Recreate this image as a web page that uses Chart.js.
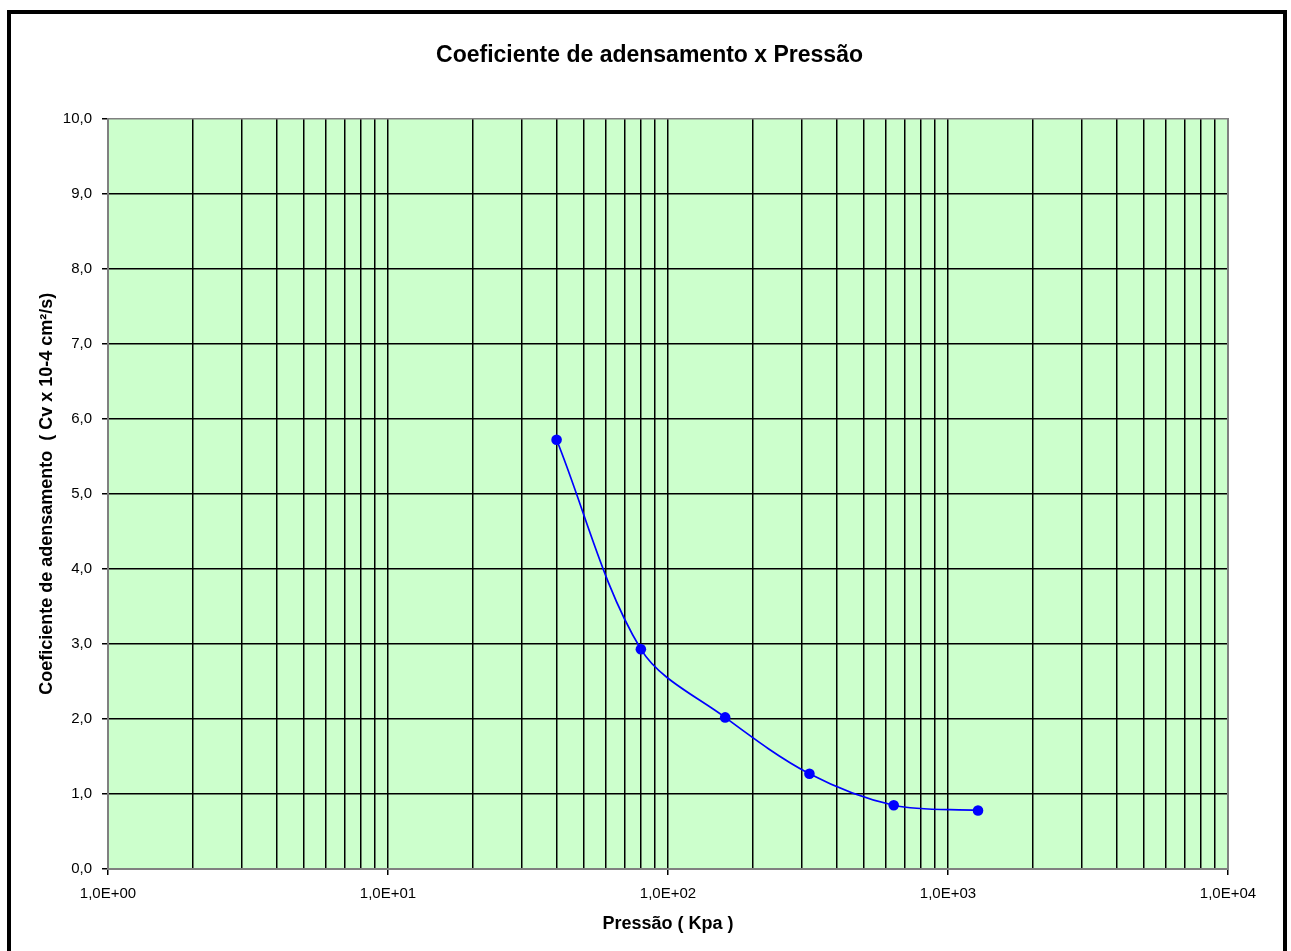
<!DOCTYPE html>
<html>
<head>
<meta charset="utf-8">
<script src="https://cdn.jsdelivr.net/npm/chart.js@4.4.1/dist/chart.umd.min.js"></script>
<style>
  html, body { margin: 0; padding: 0; background: #ffffff; overflow: hidden; }
  #wrap { position: relative; width: 1291px; height: 951px; }
  #c { position: absolute; left: 0; top: 0; }
  #frame { position: absolute; left: 7px; top: 10px; width: 1272px; height: 960px;
           border: 4px solid #000; pointer-events: none; }
</style>
</head>
<body>
<div id="wrap">
  <canvas id="c" width="1291" height="951"></canvas>
  <div id="frame"></div>
</div>
<script>
// ---- data ----
const pressure = [40, 80, 160, 320, 640, 1280];          // kPa
const cv = [5.72, 2.93, 2.02, 1.27, 0.85, 0.78];          // Cv x 10-4 cm²/s
const xDecades = [1, 10, 100, 1000, 10000];
const xDecadeLabels = ['1,0E+00', '1,0E+01', '1,0E+02', '1,0E+03', '1,0E+04'];
const yTickValues = [0, 1, 2, 3, 4, 5, 6, 7, 8, 9, 10];
const chartTitle = 'Coeficiente de adensamento x Pressão';
const xTitle = 'Pressão ( Kpa )';
const yTitle = 'Coeficiente de adensamento  ( Cv x 10-4 cm²/s)';

// minor log ticks 1..9 per decade
const xTickValues = [];
for (let d = 0; d < xDecades.length - 1; d++) {
  for (let m = 1; m <= 9; m++) xTickValues.push(m * xDecades[d]);
}
xTickValues.push(xDecades[xDecades.length - 1]);

const points = pressure.map((p, i) => ({ x: p, y: cv[i] }));

const plotBg = {
  id: 'plotBg',
  beforeDraw(chart) {
    const { ctx, chartArea: a } = chart;
    ctx.save();
    ctx.fillStyle = '#CCFFCC';
    ctx.fillRect(a.left, a.top, a.right - a.left, a.bottom - a.top);
    ctx.restore();
  }
};

const FONT = '"Liberation Sans", Arial, sans-serif';
const isDecade = v => xDecades.includes(v);

new Chart(document.getElementById('c'), {
  type: 'scatter',
  data: {
    datasets: [{
      data: points,
      showLine: true,
      borderColor: '#0000FF',
      backgroundColor: '#0000FF',
      borderWidth: 1.7,
      pointRadius: 5.3,
      pointHoverRadius: 5.3,
      pointBorderWidth: 0,
      tension: 0.33,
      yAxisID: 'y'
    }]
  },
  options: {
    responsive: false,
    animation: false,
    layout: { padding: { left: 8, right: 0, top: 0, bottom: 0 } },
    plugins: {
      legend: { display: false },
      tooltip: { enabled: false },
      title: {
        display: true,
        text: chartTitle,
        color: '#000',
        font: { family: FONT, size: 23, weight: 'bold' },
        padding: { top: 42, bottom: 49 }
      }
    },
    scales: {
      x: {
        type: 'logarithmic',
        min: 1,
        max: 10000,
        afterBuildTicks(scale) { scale.ticks = xTickValues.map(v => ({ value: v })); },
        afterFit(scale) { scale.height = 82; },
        ticks: {
          autoSkip: false,
          maxRotation: 0,
          minRotation: 0,
          padding: 10,
          color: '#000',
          font: { family: FONT, size: 15 },
          callback(v) {
            const i = xDecades.indexOf(v);
            return i >= 0 ? xDecadeLabels[i] : '';
          }
        },
        grid: {
          color: ctx => (ctx.tick && (ctx.tick.value === 1 || ctx.tick.value === 10000)) ? '#808080' : '#000',
          lineWidth: 1.5,
          tickLength: 6,
          tickColor: ctx => (ctx.tick && isDecade(ctx.tick.value)) ? '#000' : 'rgba(0,0,0,0)',
          tickWidth: 1.5
        },
        border: { color: '#808080', width: 2 },
        title: {
          display: true,
          text: xTitle,
          color: '#000',
          font: { family: FONT, size: 18, weight: 'bold' },
          padding: { top: 0, bottom: 16 }
        }
      },
      y: {
        position: 'left',
        min: 0,
        max: 10,
        afterBuildTicks(scale) { scale.ticks = yTickValues.map(v => ({ value: v })); },
        afterFit(scale) { scale.width = 100; },
        ticks: {
          padding: 10,
          color: '#000',
          font: { family: FONT, size: 15 },
          callback: v => v.toFixed(1).replace('.', ',')
        },
        grid: {
          color: ctx => (ctx.tick && ctx.tick.value === 10) ? '#808080' : '#000',
          lineWidth: 1.5,
          tickLength: 6,
          tickColor: '#000',
          tickWidth: 1.5
        },
        border: { color: '#808080', width: 2 },
        title: {
          display: true,
          text: yTitle,
          color: '#000',
          font: { family: FONT, size: 18, weight: 'bold' },
          padding: { top: 28, bottom: 0 }
        }
      },
      yRight: {
        position: 'right',
        min: 0,
        max: 10,
        afterFit(scale) { scale.width = 63; },
        ticks: { display: false },
        grid: { display: false, drawOnChartArea: false, drawTicks: false },
        border: { display: true, color: '#808080', width: 2 },
        title: { display: false }
      }
    }
  },
  plugins: [plotBg]
});
</script>
</body>
</html>
